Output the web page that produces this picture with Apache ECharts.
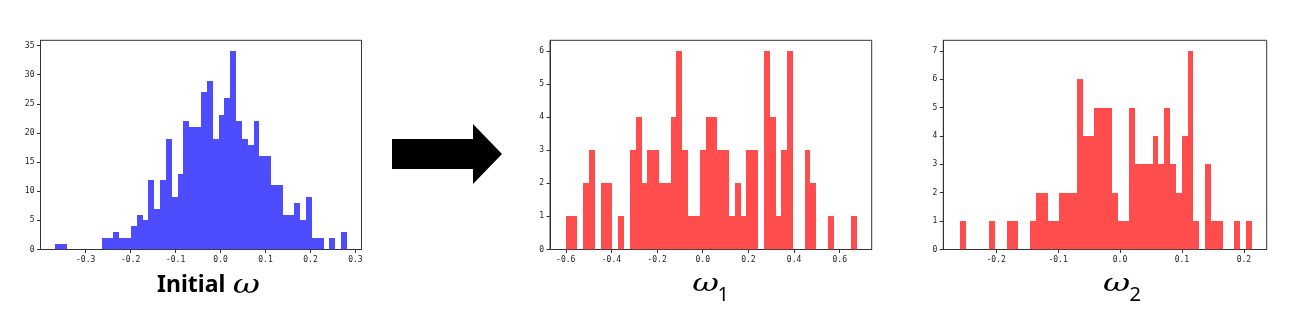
<!DOCTYPE html>
<html>
<head>
<meta charset="utf-8">
<script src="https://cdn.jsdelivr.net/npm/echarts@6/dist/echarts.min.js"></script>
<style>
html,body{margin:0;padding:0;background:#fff;}
#chart{width:1301px;height:318px;}
</style>
</head>
<body>
<div id="chart"></div>
<script>
// ---- data (histogram counts, 50 bins each) ----
const initialCounts = [1,1,0,0,0,0,0,0,2,2,3,2,2,4,6,5,12,7,12,19,9,13,22,21,21,27,29,19,23,26,34,22,19,18,22,16,16,11,11,6,6,8,5,9,2,2,0,2,0,3];
const initialRange = [-0.368, 0.281];
const omega1Counts = [1,1,0,2,3,0,2,2,0,1,0,3,4,2,3,3,2,2,4,6,3,1,1,3,4,4,3,3,1,2,1,3,3,0,6,4,1,3,6,0,0,3,2,0,0,1,0,0,0,1];
const omega1Range = [-0.600, 0.676];
const omega2Counts = [1,0,0,0,0,1,0,0,1,1,0,0,1,2,2,1,1,2,2,2,6,4,4,5,5,5,2,1,1,5,3,3,3,4,3,5,3,2,4,7,1,0,3,1,1,0,0,1,0,1];
const omega2Range = [-0.2584, 0.2127];

// tick labels
const initialXTicks = [-0.3,-0.2,-0.1,0.0,0.1,0.2,0.3];
const initialYTicks = [0,5,10,15,20,25,30,35];
const omega1XTicks = [-0.6,-0.4,-0.2,0.0,0.2,0.4,0.6];
const omega1YTicks = [0,1,2,3,4,5,6];
const omega2XTicks = [-0.2,-0.1,0.0,0.1,0.2];
const omega2YTicks = [0,1,2,3,4,5,6,7];

const titles = ['Initial ', 'ω', '1', '2'];

// ---- build ----
function bins(counts, range){
  const n = counts.length, w = (range[1]-range[0])/n;
  return counts.map((c,i)=>[range[0]+i*w, range[0]+(i+1)*w, c]);
}
const panels = [
  {counts: initialCounts, range: initialRange, xt: initialXTicks, yt: initialYTicks, color:'#4d4dff',
   xmin:-0.4005, xmax:0.3135, ymax:35.9, left:40.5, width:321},
  {counts: omega1Counts, range: omega1Range, xt: omega1XTicks, yt: omega1YTicks, color:'#ff4d4d',
   xmin:-0.669, xmax:0.740, ymax:6.32, left:550, width:321.7},
  {counts: omega2Counts, range: omega2Range, xt: omega2XTicks, yt: omega2YTicks, color:'#ff4d4d',
   xmin:-0.2854, xmax:0.2369, ymax:7.37, left:943.3, width:323.4}
];
const axisColor = '#333';
const labelFont = {fontSize:8, fontFamily:'DejaVu Sans Mono', color:'#1a1a1a'};

const grids = [], xAxes = [], yAxes = [], series = [];
panels.forEach((p,i)=>{
  grids.push({left:p.left, top:40.3, width:p.width, height:209.2, show:true, borderColor:axisColor, borderWidth:1, backgroundColor:'transparent'});
  xAxes.push({gridIndex:i, type:'value', min:p.xmin, max:p.xmax,
    splitLine:{show:false},
    axisLine:{show:true, onZero:false, lineStyle:{color:axisColor, width:1}},
    axisTick:{show:true, length:3.5, customValues:p.xt, lineStyle:{color:axisColor}},
    axisLabel:Object.assign({customValues:p.xt, margin:6, formatter:v=>v.toFixed(1)}, labelFont)});
  yAxes.push({gridIndex:i, type:'value', min:0, max:p.ymax,
    splitLine:{show:false},
    axisLine:{show:true, onZero:false, lineStyle:{color:axisColor, width:1}},
    axisTick:{show:true, length:3.5, customValues:p.yt, lineStyle:{color:axisColor}},
    axisLabel:Object.assign({customValues:p.yt, margin:6, formatter:v=>String(v)}, labelFont)});
  const color = p.color;
  series.push({type:'custom', xAxisIndex:i, yAxisIndex:i, silent:true, clip:true,
    data: bins(p.counts, p.range),
    encode:{x:[0,1], y:2},
    renderItem:(params, api)=>{
      const c = api.value(2);
      if (!c) return null;
      const a = api.coord([api.value(0), c]);
      const b = api.coord([api.value(1), 0]);
      const x0 = Math.round(a[0]), x1 = Math.round(b[0]);
      const y0 = Math.round(a[1]), y1 = b[1];
      return {type:'rect', shape:{x:x0, y:y0, width:x1-x0, height:y1-y0},
        style:{fill:color, stroke:null}};
    }});
});

const omegaFont = 'italic 28px "DejaVu Serif"';
const subFont = '20px "Noto Sans"';
function txt(x, y, text, font, sx, sy){
  return {type:'text', x:x, y:y, scaleX:sx||1, scaleY:sy||1, originX:0, originY:0,
    style:{text:text, font:font, fill:'#000', verticalAlign:'middle', align:'left'}};
}

const chart = echarts.init(document.getElementById('chart'), null, {renderer:'canvas'});
chart.setOption({
  animation:false,
  backgroundColor:'#fff',
  grid:grids, xAxis:xAxes, yAxis:yAxes, series:series,
  graphic:[
    {type:'polygon', shape:{points:[[392,139],[473,139],[473,124],[502,154],[473,184],[473,169],[392,169]]}, style:{fill:'#000'}},
    txt(157, 285, titles[0], 'bold 23px "Noto Sans"'),
    txt(232.7, 286, titles[1], omegaFont, 1.19, 0.9),
    txt(692.2, 284.4, titles[1], omegaFont, 1.17, 0.85),
    txt(717.5, 295.7, titles[2], subFont),
    txt(1103, 284.4, titles[1], omegaFont, 1.19, 0.85),
    txt(1129.5, 295.7, titles[3], subFont)
  ]
});
</script>
</body>
</html>
